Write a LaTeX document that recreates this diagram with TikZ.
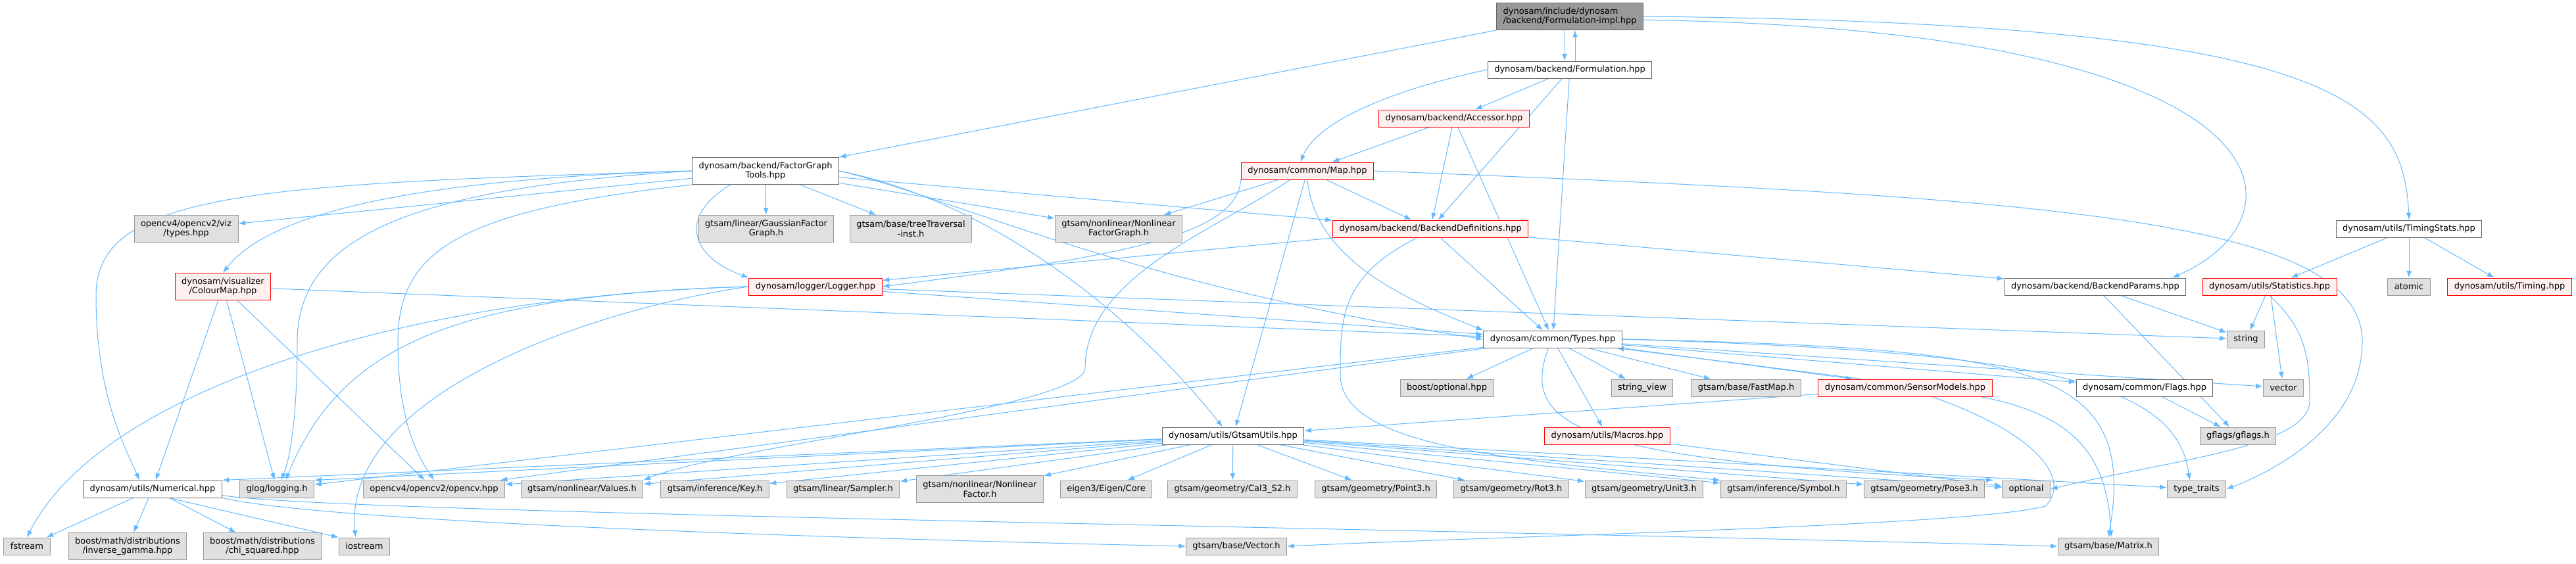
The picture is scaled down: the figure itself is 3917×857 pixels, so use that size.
\documentclass[tikz,border=0pt]{standalone}
\usepackage{fontspec}
\newfontfamily\dxfont{DejaVu Sans}
\usepackage{tikz}
\usetikzlibrary{arrows.meta,backgrounds}
\usepackage{xcolor}
\definecolor{edgeblue}{HTML}{63B8FF}
\definecolor{extfill}{HTML}{E0E0E0}
\definecolor{extline}{HTML}{999999}
\definecolor{docline}{HTML}{666666}
\definecolor{redfill}{HTML}{FFF0F0}
\definecolor{rootfill}{HTML}{999999}

\begin{document}
\begin{tikzpicture}[
    x=0.75pt, y=-0.75pt,
    font={\dxfont\fontsize{9.75}{11}\selectfont},
    box/.style={draw, line width=0.75pt, align=center, inner xsep=7.5pt, inner ysep=2pt, minimum height=19.5pt},
    ext/.style={box, fill=extfill, draw=extline},
    doc/.style={box, fill=white, draw=docline},
    trunc/.style={box, fill=redfill, draw=red},
    root/.style={box, fill=rootfill, draw=docline, align=left},
    two/.style={minimum height=30.75pt},
    arr/.style={-{Latex[length=8pt,width=6pt]}, draw=edgeblue, line width=0.75pt}
  ]
    \useasboundingbox (0,0) rectangle (3917,857);

    \node[root, two] (impl) at (2387,25) {dynosam/include/dynosam\\/backend/Formulation-impl.hpp};
    \node[doc] (form) at (2387,106) {dynosam/backend/Formulation.hpp};
    \node[trunc] (acc) at (2211,180) {dynosam/backend/Accessor.hpp};
    \node[trunc] (map) at (1988,260) {dynosam/common/Map.hpp};
    \node[doc, two] (fgt) at (1164,260) {dynosam/backend/FactorGraph\\Tools.hpp};

    \node[ext, two] (viz) at (283,348) {opencv4/opencv2/viz\\/types.hpp};
    \node[ext, two] (gfg) at (1165,348) {gtsam/linear/GaussianFactor\\Graph.h};
    \node[ext, two] (trav) at (1385,348) {gtsam/base/treeTraversal\\-inst.h};
    \node[ext, two] (nlfg) at (1701,348) {gtsam/nonlinear/Nonlinear\\FactorGraph.h};
    \node[trunc] (bdefs) at (2175,348) {dynosam/backend/BackendDefinitions.hpp};
    \node[doc] (tstats) at (3663,348) {dynosam/utils/TimingStats.hpp};

    \node[trunc, two] (cmap) at (339,436) {dynosam/visualizer\\/ColourMap.hpp};
    \node[trunc] (logger) at (1240,436) {dynosam/logger/Logger.hpp};
    \node[doc] (bparams) at (3186,436) {dynosam/backend/BackendParams.hpp};
    \node[trunc] (stats) at (3451,436) {dynosam/utils/Statistics.hpp};
    \node[ext] (atom) at (3663,436) {atomic};
    \node[trunc] (timing) at (3816,436) {dynosam/utils/Timing.hpp};

    \node[doc] (types) at (2361,516) {dynosam/common/Types.hpp};
    \node[ext] (strg) at (3415,516) {string};

    \node[ext] (bopt) at (2200,590) {boost/optional.hpp};
    \node[ext] (sview) at (2497,590) {string\_view};
    \node[ext] (fmap) at (2655,590) {gtsam/base/FastMap.h};
    \node[trunc] (sensor) at (2897,590) {dynosam/common/SensorModels.hpp};
    \node[doc] (flags) at (3261,590) {dynosam/common/Flags.hpp};
    \node[ext] (vec) at (3472,590) {vector};

    \node[doc] (gtu) at (1875,663) {dynosam/utils/GtsamUtils.hpp};
    \node[trunc] (macros) at (2444,663) {dynosam/utils/Macros.hpp};
    \node[ext] (gflg) at (3403,663) {gflags/gflags.h};

    \node[doc] (num) at (232,744) {dynosam/utils/Numerical.hpp};
    \node[ext] (glog) at (421,744) {glog/logging.h};
    \node[ext] (ocv) at (660,744) {opencv4/opencv2/opencv.hpp};
    \node[ext] (values) at (885,744) {gtsam/nonlinear/Values.h};
    \node[ext] (key) at (1087,744) {gtsam/inference/Key.h};
    \node[ext] (sampler) at (1282,744) {gtsam/linear/Sampler.h};
    \node[ext, two] (nlfac) at (1490,744) {gtsam/nonlinear/Nonlinear\\Factor.h};
    \node[ext] (eigen) at (1682,744) {eigen3/Eigen/Core};
    \node[ext] (cal) at (1874,744) {gtsam/geometry/Cal3\_S2.h};
    \node[ext] (pt) at (2092,744) {gtsam/geometry/Point3.h};
    \node[ext] (rot) at (2298,744) {gtsam/geometry/Rot3.h};
    \node[ext] (unit) at (2500,744) {gtsam/geometry/Unit3.h};
    \node[ext] (sym) at (2712,744) {gtsam/inference/Symbol.h};
    \node[ext] (pose) at (2926,744) {gtsam/geometry/Pose3.h};
    \node[ext] (opt) at (3081,744) {optional};
    \node[ext] (ttr) at (3340,744) {type\_traits};

    \node[ext] (fstr) at (41,831) {fstream};
    \node[ext, two] (igam) at (194,831) {boost/math/distributions\\/inverse\_gamma.hpp};
    \node[ext, two] (chisq) at (399,831) {boost/math/distributions\\/chi\_squared.hpp};
    \node[ext] (iostr) at (554,831) {iostream};
    \node[ext] (vecg) at (1880,831) {gtsam/base/Vector.h};
    \node[ext] (matg) at (3206,831) {gtsam/base/Matrix.h};

    \begin{scope}[on background layer]
    \draw[arr] ([xshift=-6pt]impl.south) -- ([xshift=-6pt]form.north);
    \draw[arr] ([xshift=6pt]form.north) -- ([xshift=6pt]impl.south);
    \draw[arr] (impl.south west) -- (fgt.north east);
    \draw[arr] ([yshift=-4pt]impl.east) .. controls (3500,45) and (3515,330) .. ([xshift=-16pt]bparams.north east);
    \draw[arr] (impl.east) .. controls (3550,35) and (3655,150) .. (tstats.north);

    \draw[arr] (form.west) .. controls (2100,140) and (2000,190) .. ([xshift=-8pt]map.north);
    \foreach \t in {acc, bdefs, types}
      \draw[arr] (form) -- (\t);
    \foreach \t in {map, bdefs, types}
      \draw[arr] (acc) -- (\t);

    \draw[arr] (map) -- (nlfg);
    \draw[arr] (map) -- (bdefs);
    \draw[arr] (map) -- (gtu);
    \draw[arr] (map.south west) .. controls (1880,360) and (1700,390) .. (logger.east);
    \draw[arr] (map.south) .. controls (2000,400) and (2150,460) .. (types.north west);
    \draw[arr] ([xshift=-20pt]map.south) .. controls (1850,350) and (1650,420) .. (1650,560)
      .. controls (1650,620) and (1100,680) .. (values.north east);
    \draw[arr] (map.east) .. controls (3100,300) and (3592,330) .. (3592,520)
      .. controls (3592,650) and (3450,720) .. (ttr.east);

    \foreach \t in {viz, gfg, trav, nlfg, bdefs}
      \draw[arr] (fgt) -- (\t);
    \draw[arr] (fgt.west) .. controls (700,270) and (420,310) .. (cmap.north);
    \draw[arr] (fgt.west) .. controls (400,280) and (145,290) .. (146,450)
      .. controls (146,600) and (190,680) .. ([xshift=-15pt]num.north);
    \draw[arr] (fgt.west) .. controls (650,285) and (452,350) .. (452,520)
      .. controls (452,640) and (440,700) .. ([xshift=5pt]glog.north);
    \draw[arr] (fgt.south west) .. controls (700,320) and (605,380) .. (605,520)
      .. controls (605,650) and (640,700) .. (ocv.north);
    \draw[arr] ([xshift=-40pt]fgt.south) .. controls (1030,330) and (1050,390) .. (logger.north west);
    \draw[arr] (fgt.east) .. controls (1450,300) and (1700,430) .. (types.west);
    \draw[arr] (fgt.east) .. controls (1480,300) and (1700,450) .. ([xshift=-12pt]gtu.north);

    \foreach \t in {types, num, glog, ocv}
      \draw[arr] (cmap) -- (\t);

    \draw[arr] (logger) -- (types);
    \draw[arr] (logger) -- (strg);
    \draw[arr] (logger.west) .. controls (600,450) and (150,600) .. (fstr.north);
    \draw[arr] (logger.west) .. controls (700,450) and (520,520) .. ([xshift=10pt]glog.north);
    \draw[arr] (logger.west) .. controls (900,470) and (520,600) .. ([xshift=-10pt]iostr.north);

    \draw[arr] (bdefs) -- (logger);
    \draw[arr] (bdefs) -- (types);
    \draw[arr] (bdefs) -- (bparams);
    \draw[arr] ([xshift=-15pt]bdefs.south) .. controls (2040,420) and (2038,480) .. (2038,570)
      .. controls (2038,680) and (2300,700) .. (sym.north west);

    \draw[arr] (bparams) -- (strg);
    \draw[arr] (bparams) -- (gflg);
    \foreach \t in {stats, atom, timing}
      \draw[arr] (tstats) -- (\t);
    \draw[arr] (stats) -- (strg);
    \draw[arr] (stats) -- (vec);
    \draw[arr] (stats.south) .. controls (3505,500) and (3512,540) .. (3512,610)
      .. controls (3512,680) and (3300,700) .. (opt.east);

    \foreach \t in {bopt, sview, fmap, flags, vec, macros, glog, ocv}
      \draw[arr] (types) -- (\t);
    \draw[arr] (types.south east) -- ([xshift=-60pt]sensor.north);
    \draw[arr] ([xshift=-50pt]sensor.north) -- ([xshift=-6pt]types.south east);
    \draw[arr] ([xshift=-5pt]types.south) .. controls (2310,650) and (2400,700) .. ([xshift=-10pt]opt.north west);
    \draw[arr] (types.east) .. controls (3100,530) and (3250,560) .. (matg.north);
    \draw[arr] (types.east) .. controls (3100,535) and (3310,580) .. ([xshift=-8pt]ttr.north);

    \draw[arr] (sensor) -- (gtu);
    \draw[arr] ([xshift=30pt]sensor.south) .. controls (3100,660) and (3150,730) .. (3110,770)
      .. controls (3000,800) and (2300,815) .. (vecg.east);
    \draw[arr] ([xshift=-14pt]sensor.south east) .. controls (3150,630) and (3205,690) .. ([xshift=3pt]matg.north);
    \draw[arr] (flags) -- (gflg);
    \draw[arr] (macros) -- (opt);

    \draw[arr] (gtu) -- (num.north east);
    \draw[arr] (gtu) -- (glog.north east);
    \foreach \t in {ocv, values, key, sampler, nlfac, eigen, cal, pt, rot, unit, sym, pose, opt, ttr}
      \draw[arr] (gtu) -- (\t);

    \foreach \t in {fstr, igam, chisq}
      \draw[arr] (num) -- (\t);
    \draw[arr] ([xshift=19pt]num.south) -- (iostr.north west);
    \draw[arr] ([yshift=3pt]num.south east) .. controls (500,780) and (2000,800) .. (matg.west);
    \draw[arr] (num.south east) .. controls (500,795) and (1300,820) .. (vecg.west);
    \end{scope}
  \end{tikzpicture}
\end{document}
